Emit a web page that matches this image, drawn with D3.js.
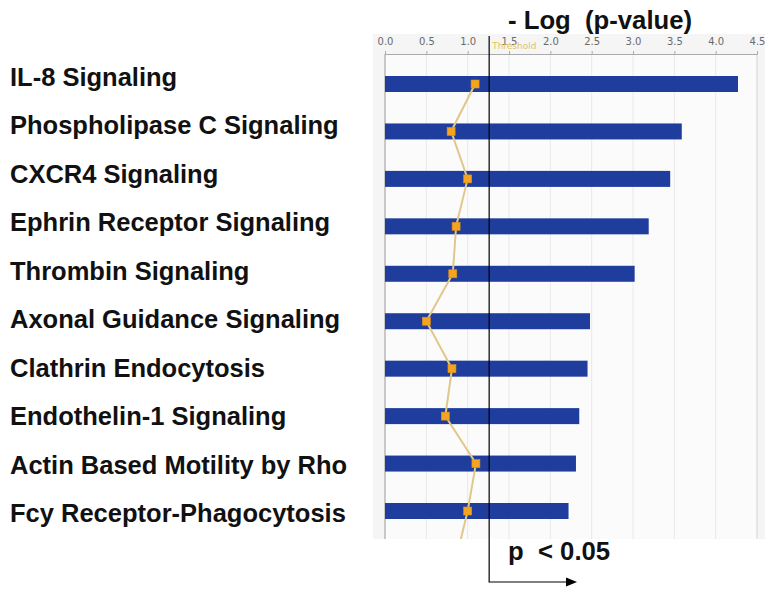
<!DOCTYPE html>
<html>
<head>
<meta charset="utf-8">
<script src="https://cdn.jsdelivr.net/npm/d3@7"></script>
<style>
  html, body { margin: 0; padding: 0; background: #fff; }
  svg { display: block; }
  .lbl { font-family: "Liberation Sans", Arial, Helvetica, sans-serif; font-weight: bold; fill: #111; }
</style>
</head>
<body>
<div id="chart"></div>
<script>
// pathways (top to bottom)
const pathways = [
  'IL-8 Signaling',
  'Phospholipase C Signaling',
  'CXCR4 Signaling',
  'Ephrin Receptor Signaling',
  'Thrombin Signaling',
  'Axonal Guidance Signaling',
  'Clathrin Endocytosis',
  'Endothelin-1 Signaling',
  'Actin Based Motility by Rho',
  'Fcy Receptor-Phagocytosis'
];
// -log(p-value)
const logP = [4.27, 3.59, 3.45, 3.19, 3.02, 2.48, 2.45, 2.35, 2.31, 2.22];
// ratio markers (drawn on same axis), last one belongs to the next, clipped row
const ratio = [1.09, 0.80, 1.00, 0.86, 0.82, 0.50, 0.81, 0.73, 1.10, 1.00, 0.86];
const ticks = [0, 0.5, 1.0, 1.5, 2.0, 2.5, 3.0, 3.5, 4.0, 4.5];
const threshold = 1.26;

const W = 774, H = 596;
const svg = d3.select('#chart').append('svg')
  .attr('width', W).attr('height', H);

const x = d3.scaleLinear().domain([0, 4.5]).range([385, 757]);
const y = d3.scalePoint().domain(pathways).range([84, 511]);
const yLbl = d3.scalePoint().domain(pathways).range([86, 522]);
const plotTop = 54, plotBot = 539;
const barH = 16;

// plot background
svg.append('rect')
  .attr('x', 373).attr('y', 34).attr('width', 392).attr('height', plotBot - 34)
  .attr('fill', '#f5f5f5');
svg.append('rect')
  .attr('x', x(0)).attr('y', plotTop).attr('width', x(4.5) - x(0)).attr('height', plotBot - plotTop)
  .attr('fill', '#fbfbfb');

// grid
svg.append('g').selectAll('line').data(ticks.slice(1, -1)).join('line')
  .attr('x1', d => x(d)).attr('x2', d => x(d))
  .attr('y1', plotTop).attr('y2', plotBot)
  .attr('stroke', '#e9e9e9').attr('stroke-width', 1);
svg.append('line')
  .attr('x1', x(4.5)).attr('x2', x(4.5)).attr('y1', plotTop).attr('y2', plotBot)
  .attr('stroke', '#d4d4d4');
svg.append('line')
  .attr('x1', x(0)).attr('x2', x(0)).attr('y1', plotTop).attr('y2', plotBot)
  .attr('stroke', '#999');

// top axis
const ax = svg.append('g')
  .attr('transform', `translate(0,${plotTop})`)
  .call(d3.axisTop(x).tickValues(ticks).tickFormat(d3.format('.1f')).tickSize(3).tickPadding(6));
ax.select('.domain').attr('stroke', '#aaa');
ax.selectAll('.tick line').attr('stroke', '#aaa');
ax.selectAll('text')
  .attr('fill', '#6a6a6a').attr('font-size', '10px')
  .attr('font-family', '"DejaVu Sans", Verdana, sans-serif');

// Threshold label (sits over the 1.5 tick, as in the source)
svg.append('text')
  .attr('x', x(threshold) + 3).attr('y', 49)
  .attr('font-size', '9px').attr('fill', '#e2c45c')
  .attr('font-family', '"DejaVu Sans", Verdana, sans-serif')
  .text('Threshold');

// bars
svg.append('g').selectAll('rect').data(pathways).join('rect')
  .attr('x', x(0))
  .attr('y', d => y(d) - barH / 2)
  .attr('width', (d, i) => x(logP[i]) - x(0))
  .attr('height', barH)
  .attr('fill', '#1f3d9d');

// ratio line, clipped to plot
svg.append('clipPath').attr('id', 'plotclip')
  .append('rect').attr('x', x(0)).attr('y', plotTop)
  .attr('width', x(4.5) - x(0)).attr('height', plotBot - plotTop);

const ratioY = (d, i) => i < pathways.length ? y(pathways[i]) : y(pathways[pathways.length - 1]) + y.step() * (i - pathways.length + 1);
const line = d3.line().x(d => x(d)).y(ratioY);
svg.append('path').datum(ratio)
  .attr('clip-path', 'url(#plotclip)')
  .attr('fill', 'none')
  .attr('stroke', '#e0c88c')
  .attr('stroke-width', 2)
  .attr('d', line);

svg.append('g').selectAll('rect').data(ratio.slice(0, pathways.length)).join('rect')
  .attr('x', d => x(d) - 4)
  .attr('y', (d, i) => ratioY(d, i) - 4)
  .attr('width', 8).attr('height', 8)
  .attr('fill', '#f4a41e')
  .attr('stroke', '#e39012').attr('stroke-width', 0.6);

// threshold line with arrow
const tx = x(threshold);
svg.append('path')
  .attr('d', `M${tx},36 V582 H566`)
  .attr('fill', 'none').attr('stroke', '#000').attr('stroke-width', 1.2);
svg.append('path')
  .attr('d', `M566,577.5 L577,582 L566,586.5 Z`)
  .attr('fill', '#000');

// pathway labels
svg.append('g').selectAll('text').data(pathways).join('text')
  .attr('class', 'lbl')
  .attr('x', 10)
  .attr('y', d => yLbl(d))
  .attr('font-size', '25.5px')
  .text(d => d);

// title
svg.append('text').attr('class', 'lbl')
  .attr('x', 508).attr('y', 29)
  .attr('font-size', '25.7px')
  .style('white-space', 'pre')
  .text('- Log  (p-value)');

svg.append('text').attr('class', 'lbl')
  .attr('x', 508).attr('y', 560)
  .attr('font-size', '25.7px')
  .style('white-space', 'pre')
  .text('p  < 0.05');
</script>
</body>
</html>
